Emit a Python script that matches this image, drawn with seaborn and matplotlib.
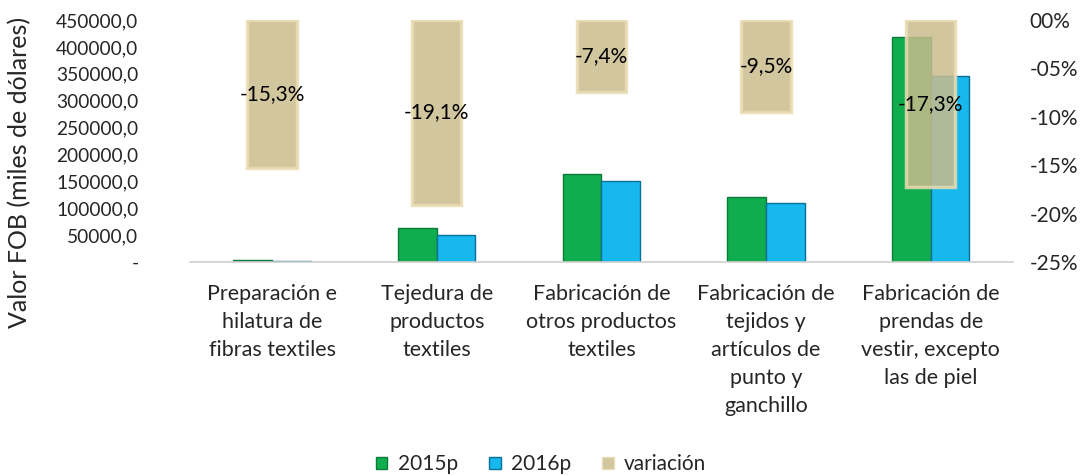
import matplotlib
matplotlib.use("Agg")
import matplotlib.pyplot as plt
import seaborn as sns
import pandas as pd
from matplotlib.ticker import FuncFormatter, MultipleLocator
from matplotlib.patches import Patch

categories = [
    "Preparación e\nhilatura de\nfibras textiles",
    "Tejedura de\nproductos\ntextiles",
    "Fabricación de\notros productos\ntextiles",
    "Fabricación de\ntejidos y\nartículos de\npunto y\nganchillo",
    "Fabricación de\nprendas de\nvestir, excepto\nlas de piel",
]
values_2015 = [3200.0, 63200.0, 163600.0, 120900.0, 418000.0]
values_2016 = [2700.0, 51100.0, 151500.0, 109400.0, 345700.0]
variacion = [-15.3, -19.1, -7.4, -9.5, -17.3]
series_names = ["2015p", "2016p", "variación"]

sns.set_theme(style="white")
plt.rcParams["font.family"] = ["Lato", "DejaVu Sans"]
FS = 15

df = pd.DataFrame({
    "cat": categories * 2,
    "serie": [series_names[0]] * 5 + [series_names[1]] * 5,
    "valor": values_2015 + values_2016,
})
dv = pd.DataFrame({"cat": categories, "var": variacion})

fig = plt.figure(figsize=(10.91, 4.76), dpi=100)
ax = fig.add_axes([0.174, 0.4496, 0.7545, 0.5084])

green = "#10AD4E"
blue = "#16B8EE"
beige = "#C9BC8C"

sns.barplot(data=df, x="cat", y="valor", hue="serie", order=categories,
            palette=[green, blue], width=0.47, ax=ax, legend=False,
            edgecolor="none", linewidth=0, saturation=1)
for patch, ec in zip(ax.patches, ["#0B7A3B"] * 5 + ["#0C6F96"] * 5):
    patch.set_edgecolor(ec)
    patch.set_linewidth(1.0)

ax.set_ylim(0, 450000)
ax.yaxis.set_major_locator(MultipleLocator(50000))
ax.yaxis.set_major_formatter(FuncFormatter(
    lambda v, p: "-" if abs(v) < 1e-9 else f"{v:.1f}".replace(".", ",")))
ax.set_xlim(-0.5, 4.5)
ax.set_xlabel("")
ax.set_ylabel("Valor FOB (miles de dólares)", fontsize=18)
ax.yaxis.set_label_coords(-0.192, 0.37)
ax.tick_params(axis="y", length=0, pad=37, labelsize=13.8)
ax.tick_params(axis="x", length=0, pad=16, labelsize=15.5)
for lbl in ax.get_xticklabels():
    lbl.set_linespacing(1.5)
for s in ["top", "right", "left"]:
    ax.spines[s].set_visible(False)
ax.spines["bottom"].set_color("#D0D0D0")
ax.spines["bottom"].set_linewidth(1.2)

ax2 = ax.twinx()
sns.barplot(data=dv, x="cat", y="var", order=categories, color=beige,
            width=0.30, ax=ax2, edgecolor="#EADCB2", linewidth=2.5,
            saturation=1, alpha=0.85)
ax2.set_ylim(-25, 0)
ax2.yaxis.set_major_locator(MultipleLocator(5))
ax2.yaxis.set_major_formatter(FuncFormatter(
    lambda v, p: f"{'-' if v < -1e-9 else ''}{abs(v):02.0f}%"))
ax2.tick_params(axis="y", length=0, pad=12, labelsize=FS)
ax2.set_ylabel("")
ax2.set_xlabel("")
for s in ["top", "right", "left", "bottom"]:
    ax2.spines[s].set_visible(False)
ax2.bar_label(ax2.containers[0],
              labels=[f"{v:.1f}%".replace(".", ",") for v in variacion],
              label_type="center", fontsize=FS, color="black")

handles = [Patch(facecolor=green, edgecolor="#0B7A3B"),
           Patch(facecolor=blue, edgecolor="#0C6F96"),
           Patch(facecolor=beige, edgecolor="#EADCB2", alpha=0.85)]
fig.legend(handles, series_names, loc="lower center", ncol=3, frameon=False,
           bbox_to_anchor=(0.496, -0.036), fontsize=FS, handlelength=0.55,
           handleheight=0.55, handletextpad=0.5, columnspacing=1.5)

fig.savefig("out.png", dpi=100)
